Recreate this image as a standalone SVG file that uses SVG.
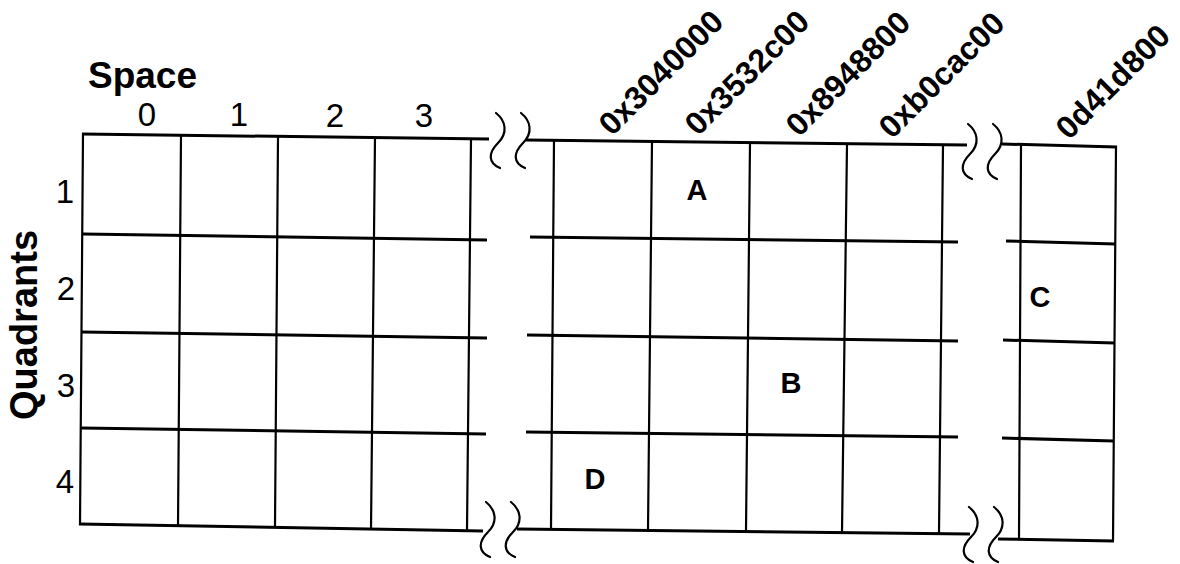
<svg xmlns="http://www.w3.org/2000/svg" width="1180" height="564" viewBox="0 0 1180 564">
<style>
.h{stroke:#000;stroke-width:3;fill:none;stroke-linecap:butt}
.v{stroke:#000;stroke-width:2.2;fill:none}
.sq{stroke:#000;stroke-width:2.2;fill:none;stroke-linecap:round}
.t{font-family:"Liberation Sans",Arial,sans-serif;fill:#000}
.b{font-weight:bold}
.num{font-size:33px}
.cell{font-size:29px;font-weight:bold;text-anchor:middle}
.hex{font-size:32px;font-weight:bold}
</style>
<defs>
<path id="sq" class="sq" d="M0,0 C10,8 12,20 2,30 C-8,40 -8,50 4,55"/>
</defs>
<rect width="1180" height="564" fill="#fff"/>

<g id="axis-labels">
<text class="t b" x="88" y="88" font-size="37">Space</text>
<text class="t b" font-size="38" transform="translate(37,420) rotate(-90)">Quadrants</text>
<g class="t num" text-anchor="middle">
<text x="147" y="126">0</text>
<text x="239" y="126">1</text>
<text x="335" y="127">2</text>
<text x="424" y="127">3</text>
</g>
<g class="t num" text-anchor="end">
<text x="74" y="203">1</text>
<text x="75" y="300">2</text>
<text x="75" y="397">3</text>
<text x="74" y="493">4</text>
</g>
<g class="t hex">
<text transform="translate(612,137) rotate(-45)">0x3040000</text>
<text transform="translate(698,137) rotate(-45)">0x3532c00</text>
<text transform="translate(799,138) rotate(-45)">0x8948800</text>
<text transform="translate(892,140) rotate(-45)">0xb0cac00</text>
<text transform="translate(1069,141) rotate(-45)">0d41d800</text>
</g>
</g>

<g id="grid-left">
<path class="h" d="M82,134 L489,139 M83,234 L487,240 M82,332 L487,338 M81,428 L486,434 M79,524 L483,531"/>
<path class="v" d="M83,133 L80,525 M181,135 L178,526 M278,136 L275,527 M375,137 L371,529 M471,139 L467,530"/>
</g>

<g id="grid-middle">
<path class="h" d="M526,140 L967,145 M530,237 L958,242 M527,335 L958,341 M526,432 L958,437 M517,529 L970,534"/>
<path class="v" d="M554,140 L551,529 M652,141 L648,530 M750,143 L746,531 M847,144 L842,532 M943,145 L939,533"/>
</g>

<g id="grid-right">
<path class="h" d="M1002,144 L1117,147 M1006,241 L1116,244 M1003,340 L1115,343 M1002,438 L1114,441 M998,539 L1114,541"/>
<path class="v" d="M1021,145 L1019,539 M1116,146 L1113,541"/>
</g>

<g id="breaks">
<use href="#sq" x="496" y="113"/>
<use href="#sq" x="521" y="113"/>
<use href="#sq" x="968" y="124"/>
<use href="#sq" x="993" y="124"/>
<use href="#sq" x="486" y="502"/>
<use href="#sq" x="511" y="502"/>
<use href="#sq" x="969" y="507"/>
<use href="#sq" x="994" y="507"/>
</g>

<g id="cells" class="t">
<text class="cell" x="697" y="200">A</text>
<text class="cell" x="791" y="393">B</text>
<text class="cell" x="1040" y="307">C</text>
<text class="cell" x="595" y="489">D</text>
</g>
</svg>
